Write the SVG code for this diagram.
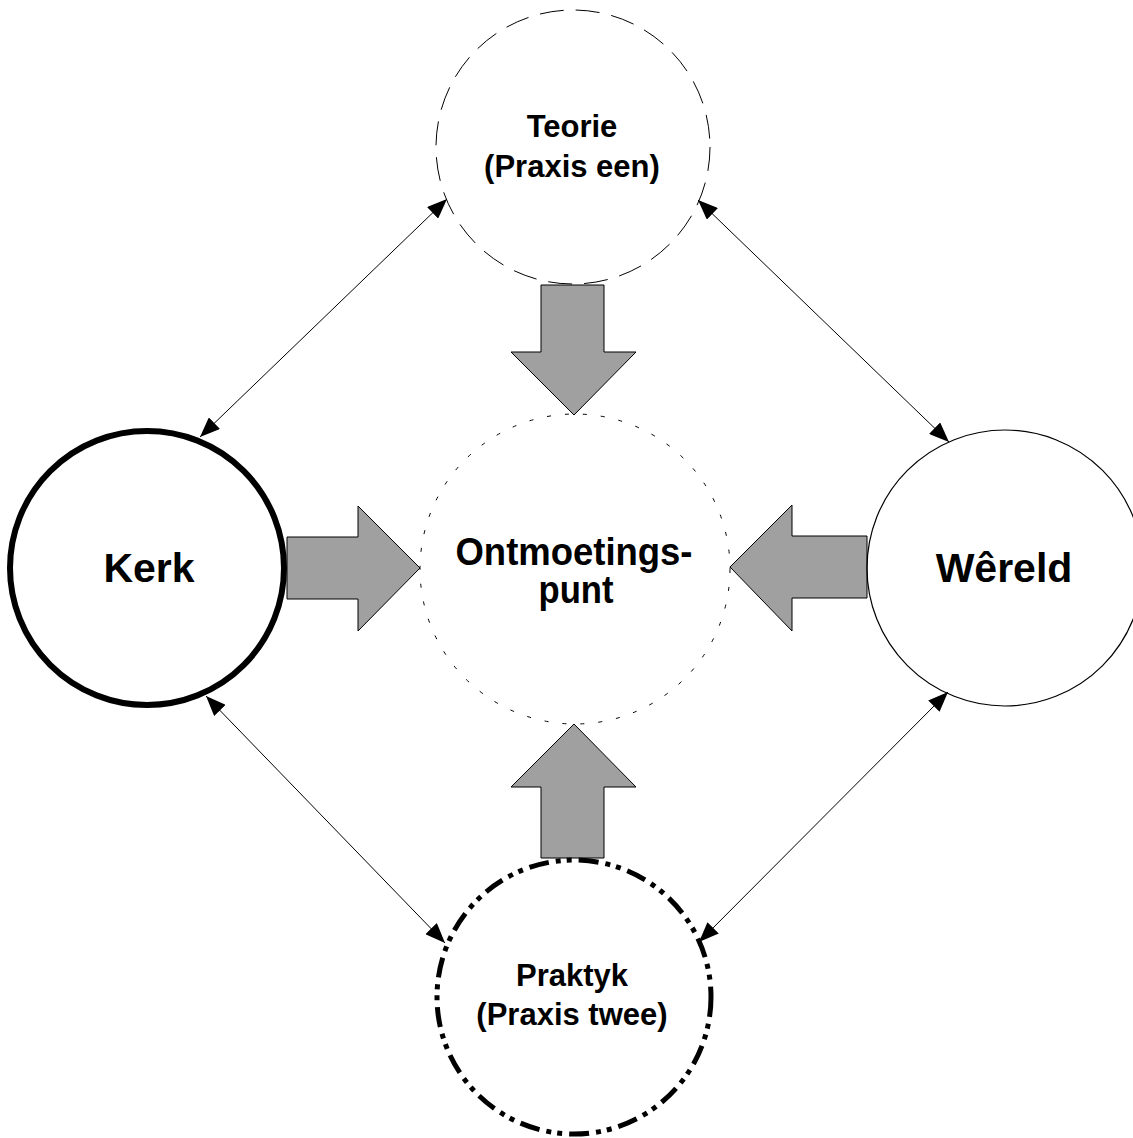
<svg xmlns="http://www.w3.org/2000/svg" width="1133" height="1138" viewBox="0 0 1133 1138">
<style>
  .lbl { font-family: "Liberation Sans", Arial, sans-serif; font-weight: bold; fill: #000; text-anchor: middle; }
  .big { font-size: 41px; }
  .mid { font-size: 38px; }
  .sm { font-size: 31px; }
  .block { fill: #a0a0a0; stroke: #000; stroke-width: 1; stroke-linejoin: miter; }
  .thin { stroke: #000; stroke-width: 1; fill: none; }
</style>
<defs>
  <marker id="ah" viewBox="0 0 20 16" refX="20" refY="8" markerWidth="20" markerHeight="16" markerUnits="userSpaceOnUse" orient="auto-start-reverse">
    <path d="M0,0 L20,8 L0,16 z" fill="#000"/>
  </marker>
</defs>
<rect width="1133" height="1138" fill="#fff"/>
<g id="connectors">
  <polygon class="block" points="541,285 604,285 604,352 636,352 574,415 511,352 541,352"/>
  <polygon class="block" points="287,537 358,537 358,506 420,568 358,631 358,599 287,599"/>
  <polygon class="block" points="867,536 792,536 792,505 730,567 792,631 792,598 867,598"/>
  <polygon class="block" points="541,858 541,787 511,787 574,724 636,787 604,787 604,858"/>
  <line class="thin" x1="200" y1="437" x2="447" y2="199" marker-start="url(#ah)" marker-end="url(#ah)"/>
  <line class="thin" x1="698" y1="200" x2="949" y2="442" marker-start="url(#ah)" marker-end="url(#ah)"/>
  <line class="thin" x1="206" y1="696" x2="445" y2="943" marker-start="url(#ah)" marker-end="url(#ah)"/>
  <line class="thin" x1="948" y1="692" x2="699" y2="942" marker-start="url(#ah)" marker-end="url(#ah)"/>
</g>
<g id="teorie">
  <circle cx="573" cy="147" r="137" fill="none" stroke="#000" stroke-width="1" stroke-dasharray="24 12"/>
  <text class="lbl sm" x="572" y="137">Teorie</text>
  <text class="lbl sm" x="572" y="177">(Praxis een)</text>
</g>
<g id="kerk">
  <circle cx="147" cy="568" r="137" fill="none" stroke="#000" stroke-width="6"/>
  <text class="lbl big" x="149" y="582">Kerk</text>
</g>
<g id="wereld">
  <circle cx="1005" cy="568" r="138" fill="none" stroke="#000" stroke-width="1.2"/>
  <text class="lbl big" x="1004" y="582">Wêreld</text>
</g>
<g id="ontmoetingspunt">
  <circle cx="575" cy="569" r="155" fill="none" stroke="#000" stroke-width="1" stroke-dasharray="4 14"/>
  <text class="lbl mid" x="574" y="565" textLength="237" lengthAdjust="spacingAndGlyphs">Ontmoetings-</text>
  <text class="lbl mid" x="576" y="603" textLength="75" lengthAdjust="spacingAndGlyphs">punt</text>
</g>
<g id="praktyk">
  <circle cx="574" cy="997" r="137" fill="none" stroke="#000" stroke-width="5" stroke-dasharray="20 7 5 6 5 7"/>
  <text class="lbl sm" x="572" y="986">Praktyk</text>
  <text class="lbl sm" x="572" y="1025">(Praxis twee)</text>
</g>
</svg>
